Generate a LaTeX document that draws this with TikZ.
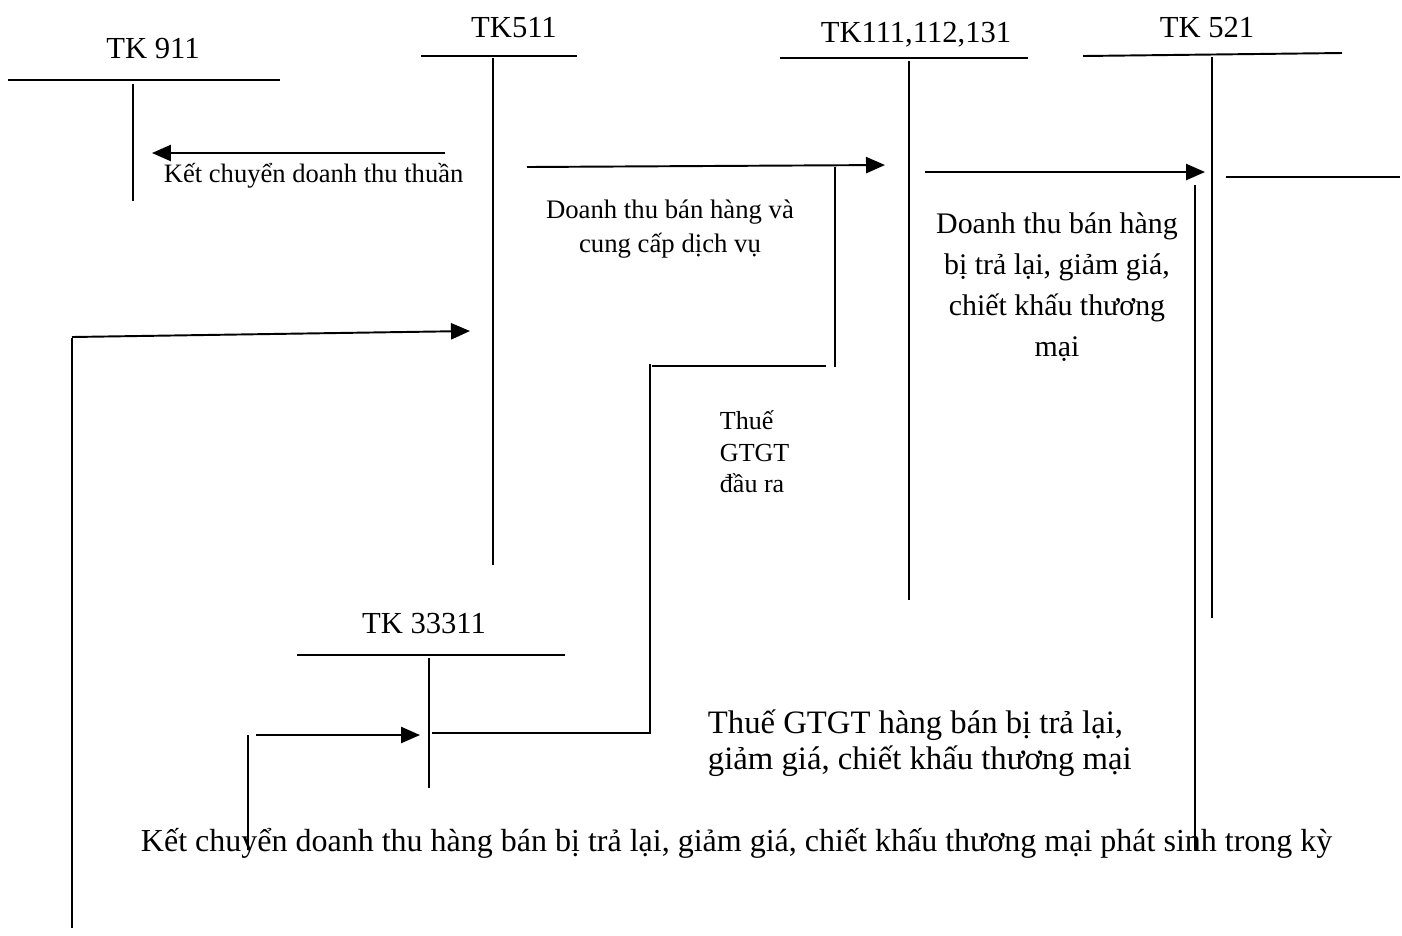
\documentclass[tikz,border=0pt]{standalone}
\usepackage{fontspec}
\setmainfont{Liberation Serif}
\usetikzlibrary{arrows.meta}
\begin{document}
\begin{tikzpicture}[x=0.01cm, y=-0.01cm, line width=0.55pt,
    >={Triangle[length=5.4pt, width=4.6pt]},
    acc/.style={font=\fontsize{8.7}{10}\selectfont, inner sep=0pt, anchor=base},
    note/.style={font=\fontsize{7.55}{9.3}\selectfont, inner sep=0pt, align=center},
    big/.style={font=\fontsize{8.5}{11.7}\selectfont, inner sep=0pt, align=center}]
    \useasboundingbox (0, 0) rectangle (1402, 935);

    % Accounts
    \node[acc] (tk911) at (153, 58) {TK 911};
    \draw (8, 80) -- (280, 80);
    \draw (133, 84) -- (133, 201);

    \node[acc] (tk511) at (514, 37) {TK511};
    \draw (421, 56) -- (577, 56);
    \draw (493, 58) -- (493, 565);

    \node[acc] (tk111) at (916, 42) {TK111,112,131};
    \draw (780, 58) -- (1028, 58);
    \draw (909, 61) -- (909, 600);

    \node[acc] (tk521) at (1207, 37) {TK 521};
    \draw (1083, 56) -- (1342, 53);
    \draw (1212, 57) -- (1212, 618);

    \node[acc] (tk33311) at (424, 633) {TK 33311};
    \draw (297, 655) -- (565, 655);
    \draw (429, 658) -- (429, 788);

    % Ket chuyen doanh thu thuan
    \coordinate (kcA) at (445, 153);
    \coordinate (kcB) at (152, 153);
    \draw[->] (kcA) -- (kcB);
    \node[note, anchor=west] (kcthuan) at (163, 176) {Kết chuyển doanh thu thuần};

    % Doanh thu ban hang
    \coordinate (dtA) at (527, 167);
    \coordinate (dtB) at (885, 165);
    \draw[->] (dtA) -- (dtB);
    \node[note, font=\fontsize{7.6}{9.8}\selectfont] (dtban) at (670, 229) {Doanh thu bán hàng và\\cung cấp dịch vụ};

    % Thue GTGT dau ra
    \coordinate (vA) at (835, 167);
    \coordinate (vB) at (835, 367);
    \coordinate (vC) at (826, 366);
    \coordinate (vD) at (652, 366);
    \coordinate (vE) at (650, 364);
    \coordinate (vF) at (650, 733);
    \coordinate (vG) at (432, 733);
    \draw (vA) -- (vB);
    \draw (vC) -- (vD);
    \draw (vE) -- (vF) -- (vG);
    \node[note, font=\fontsize{7.4}{9}\selectfont, align=left, anchor=west] (vatra) at (719, 452) {Thuế\\GTGT\\đầu ra};

    % Hang ban bi tra lai
    \coordinate (trA) at (925, 172);
    \coordinate (trB) at (1205, 172);
    \draw[->] (trA) -- (trB);
    \node[big] (trlai) at (1057, 287)
      {Doanh thu bán hàng\\bị trả lại, giảm giá,\\chiết khấu thương\\mại};
    \coordinate (kA) at (1226, 177);
    \coordinate (kB) at (1400, 177);
    \draw (kA) -- (kB);
    \coordinate (kC) at (1195, 185);
    \coordinate (kD) at (1195, 850);
    \draw (kC) -- (kD);

    % Ket chuyen sang TK511
    \coordinate (lA) at (72, 928);
    \coordinate (lB) at (72, 338);
    \coordinate (lC) at (72, 337);
    \coordinate (lD) at (470, 331);
    \draw (lA) -- (lB);
    \draw[->] (lC) -- (lD);

    % Thue GTGT hang ban bi tra lai
    \coordinate (sA) at (248, 850);
    \coordinate (sB) at (248, 735);
    \coordinate (sC) at (256, 735);
    \coordinate (sD) at (420, 735);
    \draw (sA) -- (sB);
    \draw[->] (sC) -- (sD);
    \node[big, font=\fontsize{9.3}{10.4}\selectfont, align=left, anchor=west] (vattra) at (707, 743)
      {Thuế GTGT hàng bán bị trả lại,\\giảm giá, chiết khấu thương mại};

    \node[big, font=\fontsize{9.1}{11}\selectfont, anchor=west] (kctra) at (140, 843)
      {Kết chuyển doanh thu hàng bán bị trả lại, giảm giá, chiết khấu thương mại phát sinh trong kỳ};
  \end{tikzpicture}
\end{document}
